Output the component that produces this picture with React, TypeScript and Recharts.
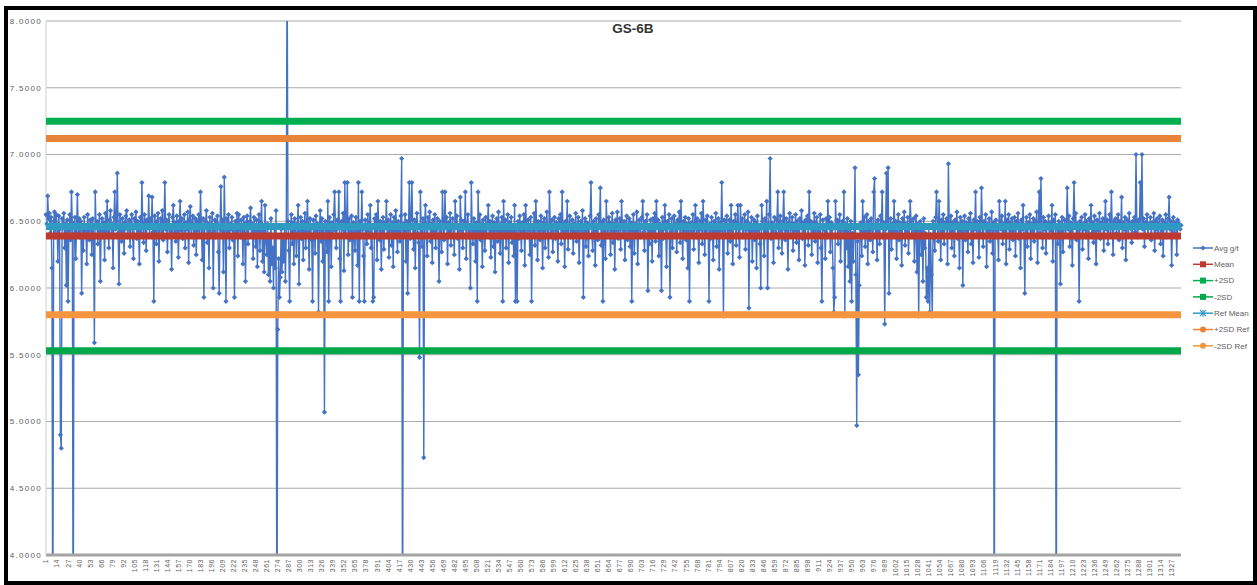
import { LineChart, Line, XAxis, YAxis, CartesianGrid } from 'recharts';

// Average grade per sample, in sample order (1 .. 1338)
const avgValues = [
  6.55, 6.48, 6.69, 6.52, 6.56, 6.41, 6.53, 6.15, 3.0, 6.50, 6.57, 6.38, 6.55, 6.47, 6.20, 6.54, 6.44, 4.90, 4.80, 6.52,
  6.45, 6.56, 6.30, 6.48, 6.02, 6.51, 5.90, 6.43, 6.55, 6.36, 6.72, 6.49, 3.0, 6.40, 6.53, 6.22, 6.46, 6.70, 6.41, 6.52,
  6.38, 6.50, 5.96, 6.45, 6.28, 6.53, 6.41, 6.47, 6.18, 6.55, 6.44, 6.36, 6.51, 6.48, 6.25, 6.52, 6.40, 5.59, 6.72, 6.46,
  6.50, 6.33, 6.47, 6.55, 6.05, 6.44, 6.52, 6.38, 6.49, 6.21, 6.56, 6.42, 6.65, 6.46, 6.30, 6.51, 6.58, 6.39, 6.48, 6.15,
  6.53, 6.72, 6.44, 6.50, 6.86, 6.41, 6.03, 6.55, 6.47, 6.35, 6.52, 6.43, 6.26, 6.49, 6.54, 6.58, 6.38, 6.46, 6.51, 6.31,
  6.48, 6.55, 6.40, 6.22, 6.52, 6.46, 6.57, 6.37, 6.50, 6.44, 6.18, 6.53, 6.41, 6.79, 6.47, 6.34, 6.55, 6.49, 6.28, 6.51,
  6.45, 6.69, 6.39, 6.52, 6.47, 6.68, 6.42, 5.90, 6.54, 6.48, 6.33, 6.50, 6.56, 6.20, 6.46, 6.52, 6.40, 6.58, 6.36, 6.49,
  6.79, 6.44, 6.51, 6.27, 6.48, 6.55, 6.38, 6.46, 6.14, 6.53, 6.62, 6.41, 6.49, 6.35, 6.54, 6.45, 6.23, 6.50, 6.65, 6.43,
  6.52, 6.37, 6.47, 6.55, 6.30, 6.49, 6.44, 6.57, 6.19, 6.51, 6.61, 6.40, 6.48, 6.54, 6.32, 6.46, 6.52, 6.25, 6.50, 6.43,
  6.55, 6.39, 6.72, 6.47, 6.21, 6.52, 5.93, 6.45, 6.50, 6.58, 6.34, 6.48, 6.15, 6.53, 6.41, 6.47, 6.56, 6.00, 6.44, 6.51,
  6.38, 6.49, 6.54, 6.27, 5.96, 6.46, 6.76, 6.43, 6.51, 6.12, 6.83, 6.47, 5.90, 6.52, 6.40, 6.55, 6.30, 6.48, 6.44, 6.53,
  6.36, 6.47, 5.93, 6.50, 6.42, 6.56, 6.24, 6.55, 6.45, 6.38, 6.51, 6.47, 6.18, 6.53, 6.41, 6.05, 6.49, 6.54, 6.33, 6.46,
  6.50, 6.60, 6.39, 6.48, 6.22, 6.53, 6.44, 6.31, 6.51, 6.16, 6.46, 6.55, 6.28, 6.49, 6.65, 6.20, 6.42, 6.12, 6.62, 6.35,
  6.25, 6.48, 6.10, 6.40, 6.05, 6.52, 6.18, 6.30, 6.00, 6.45, 6.15, 6.58, 3.0, 5.69, 6.22, 5.93, 6.08, 6.44, 6.12, 6.35,
  6.20, 6.47, 6.05, 6.38, 8.6, 6.50, 6.28, 5.90, 6.46, 6.55, 6.33, 6.49, 6.18, 6.52, 6.41, 6.24, 6.48, 6.62, 6.03, 6.45,
  6.53, 6.37, 6.50, 6.21, 6.46, 6.56, 6.30, 6.49, 6.65, 6.42, 6.14, 6.52, 6.45, 6.36, 5.90, 6.51, 6.47, 6.26, 6.54, 6.40,
  6.48, 5.82, 6.44, 6.58, 6.35, 6.52, 6.20, 6.47, 5.07, 6.50, 6.41, 6.27, 6.65, 5.90, 6.53, 6.45, 6.16, 6.49, 6.38, 6.55,
  6.72, 6.43, 6.30, 6.51, 6.47, 6.72, 6.22, 5.90, 6.50, 6.44, 6.56, 6.13, 6.79, 6.40, 6.48, 6.79, 6.25, 6.52, 6.36, 6.46,
  6.54, 5.93, 6.49, 6.41, 6.28, 6.53, 6.45, 6.17, 6.79, 5.90, 6.50, 6.38, 6.72, 6.44, 6.24, 5.90, 6.51, 6.47, 6.33, 6.55,
  6.42, 6.48, 6.62, 6.30, 6.46, 5.90, 5.93, 6.52, 6.40, 6.55, 6.21, 6.65, 6.47, 6.36, 6.50, 6.14, 6.44, 6.53, 6.29, 6.49,
  6.45, 6.65, 6.38, 6.51, 6.23, 6.47, 6.55, 6.32, 6.49, 6.16, 6.53, 6.42, 6.58, 6.44, 6.27, 6.50, 6.46, 6.35, 6.54, 6.97,
  3.0, 6.48, 6.40, 6.55, 6.20, 6.50, 5.96, 6.44, 6.79, 6.37, 6.52, 6.79, 6.46, 6.29, 6.51, 6.15, 6.48, 6.56, 6.41, 6.34,
  5.48, 6.72, 6.45, 6.31, 6.52, 4.73, 6.49, 6.62, 6.40, 6.24, 6.53, 6.46, 6.57, 6.35, 6.48, 6.19, 6.51, 6.43, 6.55, 6.30,
  6.47, 6.52, 6.39, 6.05, 6.50, 6.44, 6.27, 6.72, 6.48, 6.36, 6.72, 6.45, 6.53, 6.18, 6.49, 6.41, 6.56, 6.32, 6.47, 6.52,
  6.40, 6.25, 6.65, 6.48, 6.54, 6.37, 6.46, 6.14, 6.68, 6.51, 6.43, 6.30, 6.50, 6.45, 6.72, 6.22, 6.48, 6.55, 6.38, 6.47,
  6.00, 6.79, 6.46, 6.33, 6.52, 6.44, 6.20, 6.49, 5.90, 6.72, 6.41, 6.55, 6.36, 6.48, 6.16, 6.51, 6.45, 6.28, 6.53, 6.40,
  6.47, 6.62, 6.38, 6.50, 6.23, 6.46, 6.54, 6.31, 6.49, 6.12, 6.44, 6.52, 6.35, 6.57, 6.42, 6.26, 6.48, 6.53, 5.90, 6.65,
  6.43, 6.51, 6.30, 6.47, 6.55, 6.19, 6.49, 6.40, 6.53, 6.34, 6.46, 6.24, 6.62, 5.90, 6.45, 5.90, 6.50, 6.37, 6.54, 6.44,
  6.28, 6.49, 6.42, 6.55, 6.17, 6.62, 6.46, 6.38, 6.51, 6.44, 6.25, 6.53, 5.90, 6.47, 6.40, 6.56, 6.32, 6.65, 6.48, 6.21,
  6.50, 6.43, 6.36, 6.54, 6.47, 6.15, 6.49, 6.52, 6.30, 6.45, 6.57, 6.39, 6.23, 6.72, 6.48, 6.41, 6.51, 6.27, 6.46, 6.53,
  6.37, 6.49, 6.44, 6.20, 6.52, 6.46, 6.55, 6.33, 6.72, 6.41, 6.48, 6.16, 6.50, 6.43, 6.65, 6.29, 6.47, 6.54, 6.38, 6.45,
  6.51, 6.26, 6.48, 6.42, 6.56, 6.35, 6.47, 6.53, 6.19, 6.45, 6.50, 6.39, 6.58, 5.93, 6.46, 6.52, 6.31, 6.49, 6.43, 6.24,
  6.48, 6.54, 6.79, 6.40, 6.28, 6.50, 6.45, 6.17, 6.52, 6.44, 6.36, 6.55, 6.47, 6.75, 6.32, 6.49, 5.90, 6.51, 6.42, 6.22,
  6.65, 6.46, 6.38, 6.53, 6.49, 6.25, 6.44, 6.56, 6.34, 6.48, 6.14, 6.51, 6.43, 6.57, 6.37, 6.47, 6.52, 6.29, 6.65, 6.45,
  6.40, 6.50, 6.21, 6.47, 6.54, 6.36, 6.45, 6.52, 6.31, 6.49, 5.90, 6.43, 6.55, 6.26, 6.48, 6.41, 6.57, 6.18, 6.46, 6.51,
  6.38, 6.47, 6.53, 6.65, 6.42, 6.28, 6.50, 6.45, 6.55, 5.98, 6.44, 6.33, 6.51, 6.47, 6.20, 6.52, 6.40, 6.56, 6.35, 6.65,
  6.46, 6.51, 6.24, 6.48, 6.42, 5.98, 6.53, 6.37, 6.49, 6.62, 6.44, 6.16, 6.50, 6.46, 6.55, 5.93, 6.41, 6.52, 6.30, 6.47,
  6.54, 6.39, 6.48, 6.27, 6.51, 6.45, 6.57, 6.34, 6.65, 6.46, 6.22, 6.50, 6.43, 6.53, 6.36, 6.48, 6.15, 6.52, 5.90, 6.44,
  6.49, 6.41, 6.55, 6.29, 6.47, 6.62, 6.38, 6.52, 6.45, 6.19, 6.50, 6.44, 6.56, 6.33, 6.65, 6.47, 6.25, 6.51, 6.40, 6.54,
  6.46, 5.90, 6.48, 6.37, 6.53, 6.44, 6.21, 6.50, 6.42, 6.56, 6.31, 6.47, 6.52, 6.14, 6.49, 6.43, 6.79, 6.45, 5.79, 6.51,
  6.39, 6.48, 6.54, 6.26, 6.46, 6.51, 6.35, 6.62, 6.44, 6.18, 6.50, 6.47, 6.55, 6.32, 6.49, 6.62, 6.41, 6.23, 6.62, 6.45,
  6.52, 6.38, 6.47, 6.55, 6.29, 6.50, 6.44, 6.57, 5.85, 6.48, 6.41, 6.53, 6.20, 6.46, 6.51, 6.36, 6.49, 6.15, 6.54, 6.43,
  6.47, 6.33, 6.00, 6.62, 6.50, 6.45, 6.24, 6.52, 6.40, 6.65, 6.00, 6.48, 6.55, 6.97, 6.37, 6.49, 6.44, 6.19, 6.53, 6.46,
  6.41, 6.51, 6.72, 6.30, 6.48, 6.54, 6.43, 6.26, 6.50, 6.72, 6.45, 6.36, 6.52, 6.47, 6.14, 6.49, 6.56, 6.39, 6.46, 6.53,
  6.28, 6.48, 6.43, 6.55, 6.34, 6.50, 6.45, 6.21, 6.52, 6.47, 6.58, 6.37, 6.49, 6.44, 6.17, 6.51, 6.46, 6.54, 6.32, 6.72,
  6.45, 6.50, 6.25, 6.48, 6.42, 6.56, 6.35, 6.49, 6.53, 6.19, 6.46, 6.40, 6.55, 6.30, 5.90, 6.51, 6.44, 6.47, 6.22, 6.52,
  6.38, 6.65, 6.47, 6.53, 6.27, 6.49, 6.44, 6.15, 5.82, 5.93, 6.65, 6.46, 6.51, 6.33, 6.48, 6.55, 6.20, 6.45, 6.50, 6.39,
  6.72, 5.79, 6.48, 6.30, 6.52, 6.16, 6.45, 6.05, 6.50, 5.90, 6.41, 6.20, 6.47, 6.90, 6.10, 4.97, 6.35, 5.35, 6.02, 6.44,
  6.49, 6.24, 6.65, 6.42, 6.53, 6.31, 6.47, 6.55, 6.18, 6.50, 6.44, 6.36, 6.52, 6.46, 6.27, 6.72, 6.82, 6.40, 6.48, 6.21,
  6.51, 6.45, 6.33, 6.54, 6.47, 6.72, 6.38, 6.49, 5.73, 6.44, 6.86, 6.50, 6.90, 5.96, 6.46, 6.52, 6.29, 6.48, 6.41, 6.65,
  6.43, 6.50, 6.22, 6.47, 6.55, 6.36, 6.49, 6.44, 6.17, 6.52, 6.46, 6.57, 6.32, 6.48, 6.41, 6.53, 6.26, 6.45, 6.65, 6.50,
  6.38, 6.47, 6.52, 6.20, 6.45, 6.54, 6.12, 6.48, 5.79, 6.43, 6.50, 6.25, 6.46, 6.05, 6.52, 6.30, 6.41, 5.93, 6.15, 5.90,
  6.47, 5.82, 6.40, 6.10, 5.79, 6.50, 6.44, 6.28, 6.53, 6.72, 6.46, 6.35, 6.65, 6.48, 6.21, 6.51, 6.43, 6.55, 6.33, 6.49,
  6.45, 6.52, 6.18, 6.93, 6.47, 6.40, 6.54, 6.30, 6.49, 6.44, 6.24, 6.51, 6.46, 6.57, 6.37, 6.48, 6.15, 6.53, 6.42, 6.50,
  6.02, 6.47, 6.54, 6.36, 6.49, 6.43, 6.27, 6.52, 6.45, 6.56, 6.33, 6.48, 6.19, 6.51, 6.44, 6.72, 6.39, 6.50, 6.46, 6.23,
  6.53, 6.41, 6.75, 6.47, 6.31, 6.50, 6.45, 6.55, 6.16, 6.48, 6.43, 6.52, 6.35, 6.46, 6.57, 6.26, 6.49, 3.0, 6.44, 6.51,
  6.38, 6.47, 6.21, 6.65, 6.50, 6.44, 6.54, 6.33, 6.48, 6.42, 6.65, 6.18, 6.51, 6.46, 6.55, 6.29, 6.49, 6.43, 6.52, 6.36,
  6.47, 6.53, 6.24, 6.50, 6.45, 6.56, 6.37, 6.48, 6.15, 6.51, 6.44, 6.62, 6.40, 5.96, 6.47, 6.53, 6.31, 6.49, 6.45, 6.55,
  6.22, 6.48, 6.43, 6.52, 6.35, 6.50, 6.46, 6.57, 6.19, 6.49, 6.72, 6.41, 6.82, 6.47, 6.30, 6.53, 6.44, 6.50, 6.26, 6.48,
  6.45, 6.54, 6.38, 6.49, 6.43, 6.62, 6.20, 6.51, 6.47, 6.55, 3.0, 6.46, 6.33, 6.50, 6.42, 6.03, 6.48, 6.53, 6.27, 6.46,
  6.51, 6.40, 6.47, 6.75, 6.44, 6.54, 6.31, 6.49, 6.45, 6.17, 6.52, 6.79, 6.46, 6.56, 6.36, 6.48, 6.43, 5.90, 6.50, 6.45,
  6.53, 6.29, 6.48, 6.44, 6.55, 6.38, 6.50, 6.46, 6.22, 6.52, 6.47, 6.62, 6.41, 6.49, 6.34, 6.54, 6.45, 6.18, 6.51, 6.47,
  6.43, 6.56, 6.37, 6.49, 6.46, 6.52, 6.28, 6.48, 6.65, 6.44, 6.51, 6.33, 6.47, 6.55, 6.40, 6.72, 6.46, 6.25, 6.50, 6.45,
  6.52, 6.41, 6.48, 6.55, 6.36, 6.50, 6.46, 6.68, 6.30, 6.49, 6.44, 6.53, 6.21, 6.47, 6.51, 6.39, 6.56, 6.45, 6.48, 6.34,
  6.50, 6.46, 6.53, 6.42, 7.00, 6.48, 6.38, 6.51, 6.45, 6.79, 6.47, 7.00, 6.44, 6.52, 6.31, 6.49, 6.46, 6.55, 6.40, 6.48,
  6.45, 6.53, 6.36, 6.49, 6.47, 6.56, 6.28, 6.50, 6.44, 6.52, 6.41, 6.48, 6.54, 6.33, 6.47, 6.51, 6.24, 6.49, 6.45, 6.55,
  6.38, 6.48, 6.52, 6.68, 6.44, 6.50, 6.17, 6.47, 6.53, 6.41, 6.49, 6.46, 6.25, 6.51, 6.45, 6.48, 6.44, 6.47,
];

// Sample numbers along the x axis
const sampleNos = avgValues.map((_, i) => i + 1);

// Control limits
const MEAN = 6.39;
const PLUS_2SD = 7.25;
const MINUS_2SD = 5.53;
const REF_MEAN = 6.46;
const PLUS_2SD_REF = 7.12;
const MINUS_2SD_REF = 5.8;

const yTicks = [4, 4.5, 5, 5.5, 6, 6.5, 7, 7.5, 8];

const chartData = sampleNos.map((n, i) => ({
  sample: String(n),
  avg: avgValues[i],
  mean: MEAN,
  plus2sd: PLUS_2SD,
  minus2sd: MINUS_2SD,
  refMean: REF_MEAN,
  plus2sdRef: PLUS_2SD_REF,
  minus2sdRef: MINUS_2SD_REF,
}));

const BLUE = '#4472C4';

const limitSeries = [
  { key: 'mean', name: 'Mean', color: '#BE3A30', marker: 'square' },
  { key: 'plus2sd', name: '+2SD', color: '#00B050', marker: 'square' },
  { key: 'minus2sd', name: '-2SD', color: '#00A84A', marker: 'square' },
  { key: 'refMean', name: 'Ref Mean', color: '#2F9BC3', marker: 'star' },
  { key: 'plus2sdRef', name: '+2SD Ref', color: '#E8843A', marker: 'circle' },
  { key: 'minus2sdRef', name: '-2SD Ref', color: '#F5953F', marker: 'circle' },
];

const legendItems = [{ key: 'avg', name: 'Avg g/t', color: BLUE, marker: 'diamond' }, ...limitSeries];

const FONT = '"Liberation Sans", Arial, sans-serif';
const MARGIN = { top: 21, right: 76, bottom: 6, left: 0 };

const renderDiamond = (props: any) => {
  const { cx, cy, index } = props;
  if (cx == null || cy == null) return <g key={`d-${index}`} />;
  const r = 2.6;
  return (
    <path
      key={`d-${index}`}
      d={`M${cx},${cy - r}L${cx + r},${cy}L${cx},${cy + r}L${cx - r},${cy}Z`}
      fill={BLUE}
    />
  );
};

const SampleTick = (props: any) => {
  const { x, y, payload } = props;
  return (
    <text
      x={x}
      y={y}
      transform={`rotate(-90 ${x} ${y})`}
      textAnchor="end"
      dy="0.35em"
      fontSize={7}
      letterSpacing={0.5}
      fill="#606060"
      fontFamily={FONT}
    >
      {payload.value}
    </text>
  );
};

const LegendMarker = ({ marker, color, x, y }: { marker: string; color: string; x: number; y: number }) => {
  if (marker === 'diamond') {
    return <path d={`M${x},${y - 2.5}L${x + 2.5},${y}L${x},${y + 2.5}L${x - 2.5},${y}Z`} fill={color} />;
  }
  if (marker === 'square') {
    return <rect x={x - 3} y={y - 3} width={6} height={6} fill={color} />;
  }
  if (marker === 'circle') {
    return <circle cx={x} cy={y} r={3} fill={color} />;
  }
  return (
    <g stroke={color} strokeWidth={1.2}>
      <line x1={x - 3} y1={y - 3} x2={x + 3} y2={y + 3} />
      <line x1={x - 3} y1={y + 3} x2={x + 3} y2={y - 3} />
      <line x1={x} y1={y - 3.5} x2={x} y2={y + 3.5} />
    </g>
  );
};

export default function App() {
  return (
    <div style={{ position: 'fixed', left: 0, top: 0, width: 1257, height: 585, background: '#fff', overflow: 'hidden' }}>
      {/* grade series with axes and grid */}
      <LineChart width={1257} height={585} data={chartData} margin={MARGIN} style={{ fontFamily: FONT }}>
        <CartesianGrid vertical={false} stroke="#ABABAB" />
        <XAxis
          dataKey="sample"
          interval={12}
          height={24}
          tickLine={false}
          tickSize={0}
          tickMargin={4}
          axisLine={{ stroke: '#A3A3A3', strokeWidth: 3 }}
          tick={<SampleTick />}
        />
        <YAxis
          domain={[4, 8]}
          ticks={yTicks}
          allowDataOverflow
          width={46}
          tickLine={false}
          tickSize={0}
          tickMargin={4}
          axisLine={{ stroke: '#CFCFCF' }}
          tickFormatter={(v: number) => v.toFixed(4)}
          tick={{ fontSize: 8, fill: '#606060', letterSpacing: 1.3 }}
        />
        <Line
          dataKey="avg"
          name="Avg g/t"
          stroke={BLUE}
          strokeWidth={1.4}
          dot={renderDiamond}
          activeDot={false}
          isAnimationActive={false}
        />
      </LineChart>

      {/* control limits, layered above the grade markers on the same plot area */}
      <div style={{ position: 'absolute', left: 0, top: 0 }}>
        <LineChart width={1257} height={585} data={chartData} margin={MARGIN}>
          <XAxis dataKey="sample" height={24} tick={false} tickLine={false} axisLine={false} />
          <YAxis domain={[4, 8]} width={46} allowDataOverflow tick={false} tickLine={false} axisLine={false} />
          {limitSeries.map((s) => (
            <Line
              key={s.key}
              dataKey={s.key}
              name={s.name}
              stroke={s.color}
              strokeWidth={7}
              dot={false}
              activeDot={false}
              isAnimationActive={false}
            />
          ))}
        </LineChart>
      </div>

      {/* title and legend */}
      <svg
        width={1257}
        height={585}
        style={{ position: 'absolute', left: 0, top: 0, pointerEvents: 'none', fontFamily: FONT }}
      >
        <text x={633} y={33} textAnchor="middle" fontSize={13.5} fontWeight="bold" fill="#333">
          GS-6B
        </text>
        {legendItems.map((item, i) => {
          const y = 248 + i * 16.3;
          return (
            <g key={item.key}>
              <line x1={1193} x2={1213} y1={y} y2={y} stroke={item.color} strokeWidth={1.5} />
              <LegendMarker marker={item.marker} color={item.color} x={1203} y={y} />
              <text x={1214} y={y} dy="0.35em" fontSize={8} fill="#606060">
                {item.name}
              </text>
            </g>
          );
        })}
      </svg>

      <div
        style={{
          position: 'absolute',
          left: 4,
          top: 6,
          width: 1253,
          height: 579,
          border: '4px solid #000',
          boxSizing: 'border-box',
          pointerEvents: 'none',
        }}
      />
    </div>
  );
}
